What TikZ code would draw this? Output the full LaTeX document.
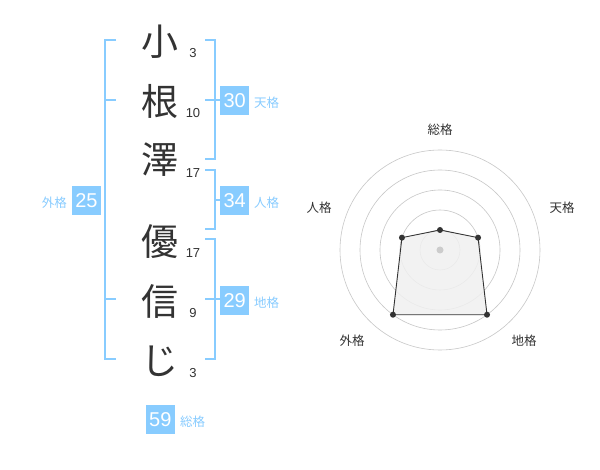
\documentclass[tikz,border=0pt]{standalone}
\usepackage{fontspec}
\newfontfamily\jp{Noto Sans CJK JP}
\newfontfamily\num{Liberation Sans}
\definecolor{bl}{HTML}{88CCFF}
\definecolor{ink}{HTML}{333333}
\begin{document}
\begin{tikzpicture}[x=1pt,y=-1pt,
  bigch/.style={font=\jp\fontsize{37}{37}\selectfont, text=ink, inner sep=0pt},
  strk/.style={font=\num\fontsize{13}{13}\selectfont, text=ink, inner sep=0pt},
  valbox/.style={fill=bl, text=white, minimum width=28.5pt, minimum height=28.5pt, inner sep=0pt, font=\num\fontsize{20}{20}\selectfont},
  lab/.style={font=\jp\fontsize{12.5}{12.5}\selectfont, text=bl, inner sep=0pt},
  brk/.style={draw=bl, line width=2pt},
  ring/.style={draw=black!22, line width=0.6pt},
  rlab/.style={font=\jp\fontsize{12.5}{12.5}\selectfont, text=ink, inner sep=0pt},
  dot/.style={circle, fill=ink, inner sep=0pt, minimum size=6pt}]
\useasboundingbox (0,0) rectangle (600,470);
\fill[white] (0,0) rectangle (600,470);
% characters
\node[bigch] (c1) at (160,42) {小};
\node[bigch] (c2) at (160,101) {根};
\node[bigch] (c3) at (160,160) {澤};
\node[bigch] (c4) at (160,242) {優};
\node[bigch] (c5) at (160,301) {信};
\node[bigch] (c6) at (160,361) {じ};
\node[strk] (s1) at (193,53) {3};
\node[strk] (s2) at (193,113) {10};
\node[strk] (s3) at (193,173) {17};
\node[strk] (s4) at (193,253) {17};
\node[strk] (s5) at (193,313) {9};
\node[strk] (s6) at (193,373) {3};
% left bracket
\draw[brk] (116,40) -- (105,40) -- (105,359.5) -- (116,359.5);
\draw[brk] (105,100) -- (116,100);
\draw[brk] (105,299.5) -- (116,299.5);
% right brackets
\draw[brk] (205,40) -- (214.5,40) -- (214.5,159.5) -- (205,159.5);
\draw[brk] (205,100) -- (220,100);
\draw[brk] (205,170) -- (214.5,170) -- (214.5,229.5) -- (205,229.5);
\draw[brk] (214.5,200) -- (220,200);
\draw[brk] (205,239.5) -- (214.5,239.5) -- (214.5,359.5) -- (205,359.5);
\draw[brk] (205,299.5) -- (220,299.5);
% value boxes
\node[valbox] (v30) at (234.7,100.3) {30};
\node[lab, anchor=west] (l30) at (254,103) {天格};
\node[valbox] (v34) at (234.7,200.3) {34};
\node[lab, anchor=west] (l34) at (254,203) {人格};
\node[valbox] (v29) at (234.7,300.3) {29};
\node[lab, anchor=west] (l29) at (254,303) {地格};
\node[valbox] (v25) at (86.5,200.3) {25};
\node[lab, anchor=east] (l25) at (67,203) {外格};
\node[valbox] (v59) at (160.3,419.3) {59};
\node[lab, anchor=west] (l59) at (180,422) {総格};
% radar
\begin{scope}[shift={(440,250)}, yscale=-1]
  \coordinate (o) at (0,0);
  \foreach \r in {20,40,60,80,100} \draw[ring] (o) circle (\r);
  \coordinate (p1) at (90:20);
  \coordinate (p2) at (18:40);
  \coordinate (p3) at (-54:80);
  \coordinate (p4) at (-126:80);
  \coordinate (p5) at (162:40);
  \fill[black!6, opacity=0.85] (p1) -- (p2) -- (p3) -- (p4) -- (p5) -- cycle;
  \draw[ink, line width=0.9pt] (p1) -- (p2) -- (p3) -- (p4) -- (p5) -- cycle;
  \fill[black!20] (o) circle (3.5);
  \foreach \p in {p1,p2,p3,p4,p5} \node[dot] at (\p) {};
\end{scope}
\node[rlab] (r1) at (440,130) {総格};
\node[rlab] (r2) at (562,208) {天格};
\node[rlab] (r3) at (319,208) {人格};
\node[rlab] (r4) at (524,341) {地格};
\node[rlab] (r5) at (352,341) {外格};
\end{tikzpicture}
\end{document}
